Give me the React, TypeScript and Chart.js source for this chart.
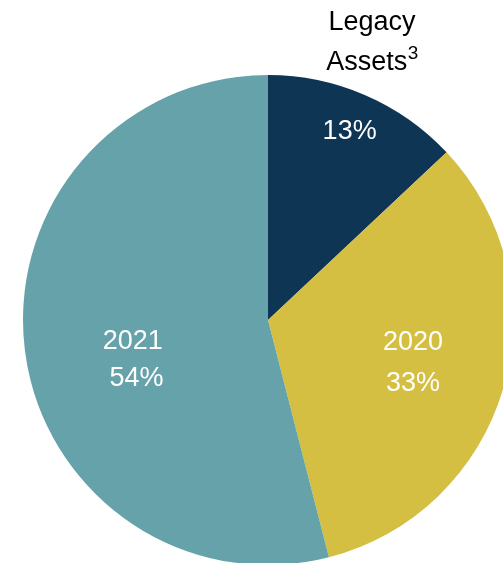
import React, { useEffect, useRef } from "react";
import { Chart, registerables } from "chart.js";

Chart.register(...registerables);

const categories = ["Legacy Assets", "2020", "2021"];
const shares = [13, 33, 54];
const insideLabels = [["13%"], ["2020", "33%"], ["2021", " 54%"]];
const outsideLabel = { base: "Legacy", second: "Assets", sup: "3" };
const colors = ["#0F3554", "#D4BF42", "#65A2AA"];

// label placement: radius fraction and angle offset (degrees) relative to slice middle
const labelRadius = [0.839, 0.617, 0.575];
const labelAngleOffset = [0, 0.3, -9.2];
const labelLineHeight = [40, 41, 37];

const FONT = "Liberation Sans, Arial, sans-serif";

const labelPlugin = {
  id: "sliceLabels",
  afterDatasetsDraw(chart: any) {
    const ctx = chart.ctx as CanvasRenderingContext2D;
    const meta = chart.getDatasetMeta(0);
    ctx.save();
    ctx.textAlign = "center";
    ctx.textBaseline = "middle";
    meta.data.forEach((arc: any, i: number) => {
      const p = arc.getProps(["x", "y", "startAngle", "endAngle", "outerRadius"], true);
      const mid = (p.startAngle + p.endAngle) / 2 + (labelAngleOffset[i] * Math.PI) / 180;
      const r = p.outerRadius * labelRadius[i];
      const cx = p.x + Math.cos(mid) * r;
      const cy = p.y + Math.sin(mid) * r;
      const lines = insideLabels[i];
      const lh = labelLineHeight[i];
      ctx.fillStyle = "#FFFFFF";
      ctx.font = `27px ${FONT}`;
      lines.forEach((t, k) => {
        const y = cy + (k - (lines.length - 1) / 2) * lh;
        ctx.fillText(t, cx, y);
      });
      if (i === 0) {
        const midO = (p.startAngle + p.endAngle) / 2 + (-2.85 * Math.PI) / 180;
        const ro = p.outerRadius * 1.21;
        const ox = p.x + Math.cos(midO) * ro;
        const oy = p.y + Math.sin(midO) * ro;
        ctx.fillStyle = "#000000";
        ctx.font = `27px ${FONT}`;
        ctx.fillText(outsideLabel.base, ox, oy - 20);
        const w1 = ctx.measureText(outsideLabel.second).width;
        ctx.font = `19px ${FONT}`;
        const w2 = ctx.measureText(outsideLabel.sup).width;
        const start = ox - (w1 + w2) / 2;
        ctx.textAlign = "left";
        ctx.font = `27px ${FONT}`;
        ctx.fillText(outsideLabel.second, start, oy + 20);
        ctx.font = `19px ${FONT}`;
        ctx.fillText(outsideLabel.sup, start + w1 + 0.5, oy + 11);
        ctx.textAlign = "center";
      }
    });
    ctx.restore();
  },
};

export default function App() {
  const ref = useRef<HTMLCanvasElement | null>(null);
  useEffect(() => {
    if (!ref.current) return;
    const chart = new Chart(ref.current, {
      type: "pie",
      data: {
        labels: categories,
        datasets: [
          {
            data: shares,
            backgroundColor: colors,
            borderWidth: 0,
            hoverOffset: 0,
          },
        ],
      },
      options: {
        animation: false,
        responsive: true,
        maintainAspectRatio: false,
        rotation: 0,
        layout: { padding: { left: 23, top: 75, right: 27, bottom: 35 } },
        plugins: {
          legend: { display: false },
          tooltip: { enabled: false },
        },
      },
      plugins: [labelPlugin],
    });
    return () => chart.destroy();
  }, []);
  return (
    <div
      style={{
        position: "fixed",
        left: 0,
        top: 0,
        width: 503,
        height: 563,
        overflow: "hidden",
        background: "#FFFFFF",
      }}
    >
      <div style={{ position: "relative", width: 540, height: 600 }}>
        <canvas ref={ref} />
      </div>
    </div>
  );
}
